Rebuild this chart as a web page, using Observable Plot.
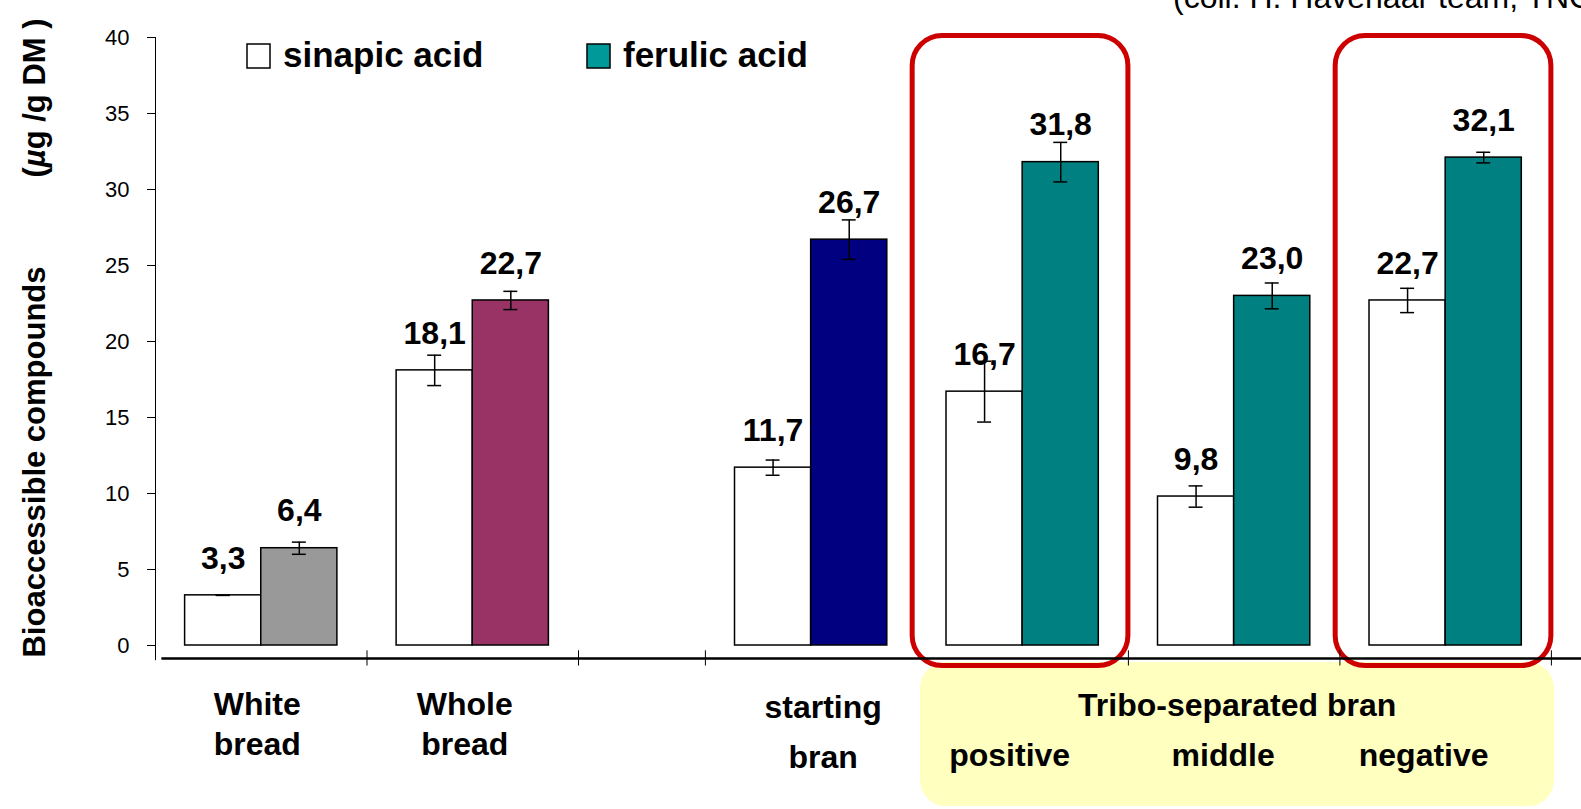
<!DOCTYPE html>
<html>
<head>
<meta charset="utf-8">
<script src="https://cdn.jsdelivr.net/npm/d3@7"></script>
<script src="https://cdn.jsdelivr.net/npm/@observablehq/plot@0.6"></script>
<style>
  html, body { margin: 0; padding: 0; background: #fff; overflow: hidden; }
</style>
</head>
<body>
<div id="chart"></div>
<script>
// ---- data ----
const categories = ["White bread", "Whole bread", "starting bran", "positive", "middle", "negative"];
const categoryLabels = ["White\nbread", "Whole\nbread", "starting\nbran", "positive", "middle", "negative"];
const sinapic = [3.3, 18.1, 11.7, 16.7, 9.8, 22.7];
const ferulic = [6.4, 22.7, 26.7, 31.8, 23.0, 32.1];
const sinapicErr = [0.0, 1.0, 0.5, 2.0, 0.7, 0.8];
const ferulicErr = [0.4, 0.6, 1.3, 1.3, 0.85, 0.35];
const ferulicColors = ["#999999", "#993366", "#000080", "#008080", "#008080", "#008080"];
const highlighted = ["positive", "negative"];
const tribo = ["positive", "middle", "negative"];
const groupLabel = "Tribo-separated bran";
const seriesNames = ["sinapic acid", "ferulic acid"];
const yTicks = [0, 5, 10, 15, 20, 25, 30, 35, 40];
const yLabel = "Bioaccessible compounds";
const yUnitParts = ["(", "\u00b5", "g /g DM )"];
const credit = "(coll. H. Havenaar team, TNO)";

// ---- layout (not data) ----
const W = 1581, H = 809;
const slotPx = 211.5;
const gapWidth = 0.6;                  // narrower empty slot before "starting bran"
const slotStart = i => i + (i >= 2 ? gapWidth : 0);
const labelDxPx = [-4, -8, 12, -13, -11, -22];
const font = "Liberation Sans, Arial, Helvetica, sans-serif";
const fmt = v => v.toFixed(1).replace(".", ",");

const rows = categories.map((c, i) => ({
  cat: c, label: categoryLabels[i], i, s: slotStart(i),
  sin: sinapic[i], fer: ferulic[i], se: sinapicErr[i], fe: ferulicErr[i],
  color: ferulicColors[i], lx: slotStart(i) + 0.5 + labelDxPx[i] / slotPx
}));
const sinX = d => d.s + 0.32, ferX = d => d.s + 0.68;
const capHalf = 0.033;
const xEnd = slotStart(categories.length - 1) + 1;
const boundaries = [1, 2, 2 + gapWidth, ...d3.range(categories.length - 3).map(k => slotStart(3 + k) + 1)];
const axisY0 = -0.85;

const boxRows = rows.filter(d => highlighted.includes(d.cat));
const triboRows = rows.filter(d => tribo.includes(d.cat));
const triboMid = triboRows[Math.floor(triboRows.length / 2)];

const plot = Plot.plot({
  width: W, height: H,
  marginTop: 37, marginBottom: 164, marginLeft: 155, marginRight: W - 155 - xEnd * slotPx,
  x: { type: "linear", domain: [0, xEnd], axis: null },
  y: { domain: [0, 40], axis: null },
  color: { type: "identity" },
  style: { fontFamily: font, fontSize: "22px", color: "black", background: "white", overflow: "visible" },
  marks: [
    // yellow group box
    Plot.rect([triboRows], {
      x1: g => g[0].s + 0.017, x2: g => g[g.length - 1].s + 1.015,
      y1: -1.12, y2: -10.6, fill: "#FFFFC0", rx: 26
    }),
    // bars
    Plot.rectY(rows, { x1: d => d.s + 0.14, x2: d => d.s + 0.5, y: "sin", fill: "white", stroke: "black", strokeWidth: 1.5 }),
    Plot.rectY(rows, { x1: d => d.s + 0.5, x2: d => d.s + 0.86, y: "fer", fill: "color", stroke: "black", strokeWidth: 1.5 }),
    // error bars
    Plot.ruleX(rows, { x: sinX, y1: d => d.sin - d.se, y2: d => d.sin + d.se, stroke: "black", strokeWidth: 1.5 }),
    Plot.ruleY(rows, { y: d => d.sin - d.se, x1: d => sinX(d) - capHalf, x2: d => sinX(d) + capHalf, stroke: "black", strokeWidth: 1.5 }),
    Plot.ruleY(rows, { y: d => d.sin + d.se, x1: d => sinX(d) - capHalf, x2: d => sinX(d) + capHalf, stroke: "black", strokeWidth: 1.5 }),
    Plot.ruleX(rows, { x: ferX, y1: d => d.fer - d.fe, y2: d => d.fer + d.fe, stroke: "black", strokeWidth: 1.5 }),
    Plot.ruleY(rows, { y: d => d.fer - d.fe, x1: d => ferX(d) - capHalf, x2: d => ferX(d) + capHalf, stroke: "black", strokeWidth: 1.5 }),
    Plot.ruleY(rows, { y: d => d.fer + d.fe, x1: d => ferX(d) - capHalf, x2: d => ferX(d) + capHalf, stroke: "black", strokeWidth: 1.5 }),
    // value labels
    Plot.text(rows, { x: sinX, y: "sin", text: d => fmt(d.sin), dy: -37, fontSize: 32, fontWeight: "bold", fill: "black" }),
    Plot.text(rows, { x: ferX, y: "fer", text: d => fmt(d.fer), dy: -37, fontSize: 32, fontWeight: "bold", fill: "black" }),
    // red highlight boxes
    Plot.rect(boxRows, { x1: d => d.s - 0.02, x2: d => d.s + 1.0, y1: -1.35, y2: 40.1, fill: "none", stroke: "#CC0000", strokeWidth: 5, rx: 30 }),
    // axes
    Plot.ruleX([0], { y1: -1, y2: 40, stroke: "black", strokeWidth: 1 }),
    Plot.axisY(yTicks, { tickSize: 8, tickPadding: 18, fontSize: 22, label: null, stroke: "black", fill: "black" }),
    Plot.ruleY([axisY0], { x1: 0.03, x2: 6.8, stroke: "black", strokeWidth: 2.5 }),
    Plot.ruleX(boundaries, { y1: axisY0 + 0.5, y2: axisY0 - 0.5, stroke: "black", strokeWidth: 1 }),
    // category labels
    Plot.text(rows.filter(d => d.i < 2), { x: "lx", y: 0, text: "label", dy: 77, lineHeight: 1.25, lineAnchor: "middle", fontSize: 32, fontWeight: "bold", fill: "black" }),
    Plot.text(rows.filter(d => d.i === 2), { x: "lx", y: 0, text: "label", dy: 81, lineHeight: 1.5625, lineAnchor: "middle", fontSize: 32, fontWeight: "bold", fill: "black" }),
    Plot.text(triboRows, { x: "lx", y: 0, text: "label", dy: 110, lineAnchor: "middle", fontSize: 32, fontWeight: "bold", fill: "black" }),
    Plot.text([groupLabel], { x: triboMid.s + 0.5, y: 0, text: d => d, dx: 3, dy: 60, lineAnchor: "middle", fontSize: 32, fontWeight: "bold", fill: "black" })
  ]
});

const svg = d3.select(plot);
// y-axis title (rotated)
svg.append("text").attr("transform", "translate(45,462) rotate(-90)")
  .attr("text-anchor", "middle").attr("font-family", font).attr("font-weight", "bold")
  .attr("font-size", 31).attr("fill", "black").text(yLabel);
const unit = svg.append("text").attr("transform", "translate(45,98) rotate(-90)")
  .attr("text-anchor", "middle").attr("font-family", font).attr("font-weight", "bold")
  .attr("font-size", 31).attr("fill", "black");
yUnitParts.forEach((p, k) => unit.append("tspan").attr("font-style", k === 1 ? "italic" : null).text(p));
// legend
const legendItems = [
  { name: seriesNames[0], fill: "#FFFFFF", x: 247 },
  { name: seriesNames[1], fill: "#009999", x: 587 }
];
legendItems.forEach(it => {
  svg.append("rect").attr("x", it.x).attr("y", 44).attr("width", 23).attr("height", 24)
    .attr("fill", it.fill).attr("stroke", "black").attr("stroke-width", 1.5);
  svg.append("text").attr("x", it.x + 36).attr("y", 67).attr("text-anchor", "start").attr("font-family", font)
    .attr("font-weight", "bold").attr("font-size", 35).attr("fill", "black").text(it.name);
});
// credit line (runs past the top/right edge, as in the original slide)
svg.append("text").attr("x", 1173).attr("y", 8).attr("text-anchor", "start").attr("font-family", font)
  .attr("font-size", 32).attr("fill", "black").text(credit);

document.getElementById("chart").appendChild(plot);
</script>
</body>
</html>
